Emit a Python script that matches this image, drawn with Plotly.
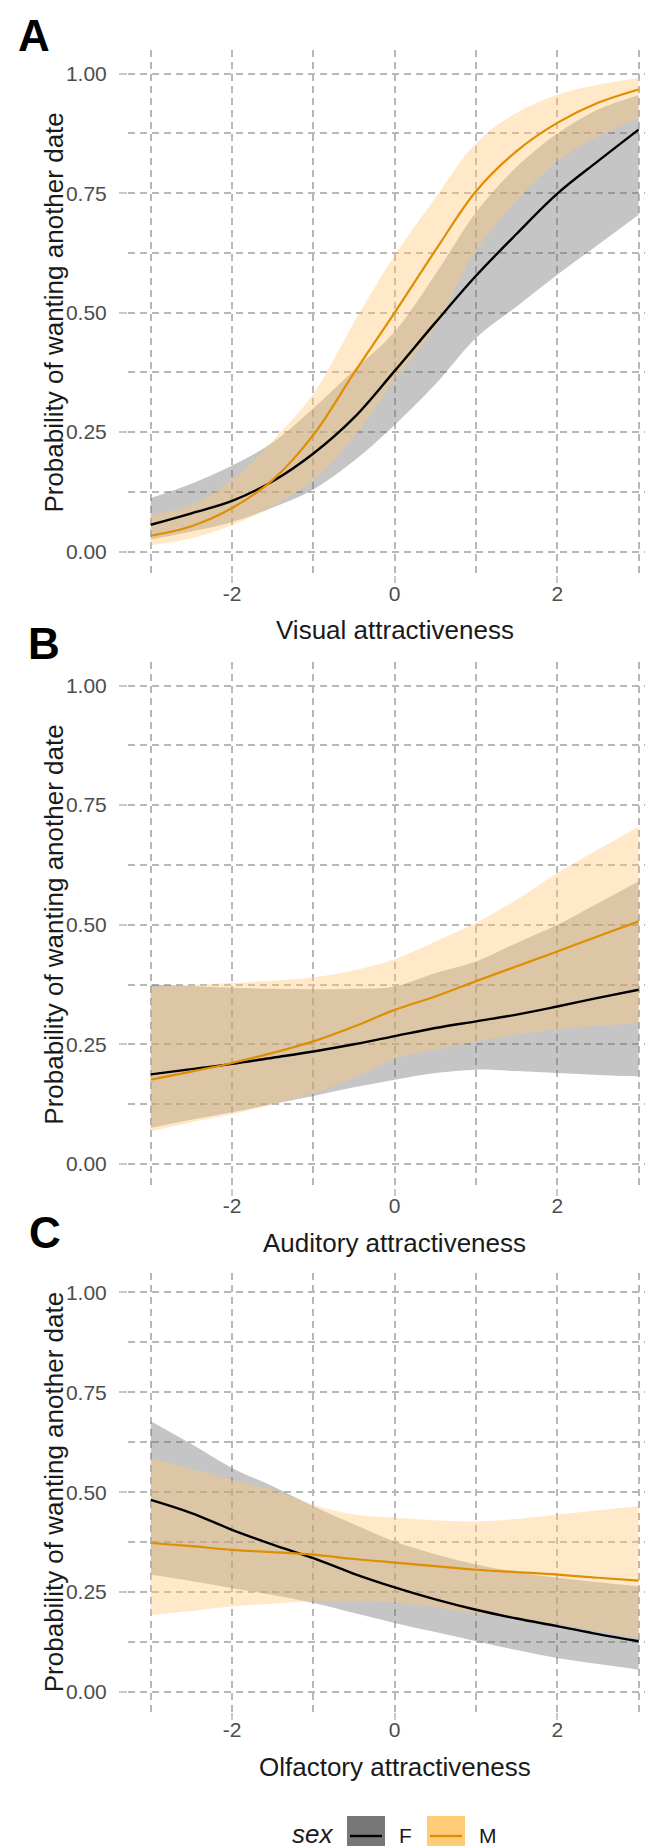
import plotly.graph_objects as go

W, H = 653, 1846

x_vals = [-3, -2.5, -2, -1.5, -1, -0.5, 0, 0.5, 1, 1.5, 2, 2.5, 3]

# Panel A - Visual
visual_F = [0.056, 0.080, 0.106, 0.147, 0.205, 0.280, 0.378, 0.479, 0.577, 0.665, 0.749, 0.817, 0.883]
visual_F_lo = [0.025, 0.042, 0.062, 0.092, 0.130, 0.190, 0.265, 0.350, 0.447, 0.513, 0.579, 0.642, 0.705]
visual_F_hi = [0.112, 0.142, 0.180, 0.228, 0.300, 0.380, 0.460, 0.580, 0.710, 0.805, 0.875, 0.925, 0.955]
visual_M = [0.033, 0.053, 0.091, 0.150, 0.244, 0.374, 0.500, 0.630, 0.754, 0.838, 0.897, 0.939, 0.967]
visual_M_lo = [0.013, 0.028, 0.055, 0.095, 0.150, 0.240, 0.360, 0.470, 0.630, 0.735, 0.817, 0.869, 0.907]
visual_M_hi = [0.075, 0.098, 0.150, 0.232, 0.330, 0.480, 0.620, 0.740, 0.855, 0.918, 0.956, 0.977, 0.991]

# Panel B - Auditory
auditory_F = [0.187, 0.198, 0.209, 0.222, 0.235, 0.250, 0.267, 0.284, 0.298, 0.312, 0.329, 0.347, 0.364]
auditory_F_lo = [0.075, 0.092, 0.108, 0.125, 0.142, 0.160, 0.176, 0.190, 0.197, 0.194, 0.190, 0.186, 0.183]
auditory_F_hi = [0.375, 0.372, 0.368, 0.366, 0.365, 0.366, 0.371, 0.399, 0.423, 0.462, 0.500, 0.545, 0.591]
auditory_M = [0.176, 0.193, 0.211, 0.232, 0.256, 0.287, 0.322, 0.350, 0.382, 0.413, 0.444, 0.476, 0.507]
auditory_M_lo = [0.068, 0.087, 0.104, 0.124, 0.147, 0.180, 0.220, 0.239, 0.256, 0.270, 0.281, 0.288, 0.295]
auditory_M_hi = [0.370, 0.374, 0.378, 0.383, 0.390, 0.405, 0.428, 0.465, 0.504, 0.552, 0.608, 0.657, 0.705]

# Panel C - Olfactory
olfactory_F = [0.481, 0.448, 0.406, 0.369, 0.335, 0.296, 0.262, 0.232, 0.206, 0.184, 0.165, 0.145, 0.127]
olfactory_F_lo = [0.294, 0.278, 0.260, 0.243, 0.223, 0.198, 0.173, 0.150, 0.127, 0.105, 0.085, 0.070, 0.056]
olfactory_F_hi = [0.678, 0.621, 0.561, 0.515, 0.465, 0.420, 0.377, 0.345, 0.319, 0.300, 0.286, 0.275, 0.265]
olfactory_M = [0.373, 0.365, 0.356, 0.350, 0.344, 0.333, 0.324, 0.315, 0.306, 0.300, 0.294, 0.286, 0.279]
olfactory_M_lo = [0.193, 0.203, 0.214, 0.221, 0.227, 0.227, 0.224, 0.212, 0.197, 0.184, 0.170, 0.152, 0.135]
olfactory_M_hi = [0.586, 0.558, 0.531, 0.506, 0.469, 0.444, 0.436, 0.430, 0.427, 0.433, 0.444, 0.455, 0.465]

panel_letters = ["A", "B", "C"]
x_titles = ["Visual attractiveness", "Auditory attractiveness", "Olfactory attractiveness"]
y_title = "Probability of wanting another date"
y_tickvals = [0, 0.25, 0.5, 0.75, 1.0]
y_ticktext = ["0.00", "0.25", "0.50", "0.75", "1.00"]
x_tickvals = [-2, 0, 2]
x_ticktext = ["-2", "0", "2"]
legend_title = "sex"
legend_labels = ["F", "M"]

panels = [
    (visual_F, visual_F_lo, visual_F_hi, visual_M, visual_M_lo, visual_M_hi),
    (auditory_F, auditory_F_lo, auditory_F_hi, auditory_M, auditory_M_lo, auditory_M_hi),
    (olfactory_F, olfactory_F_lo, olfactory_F_hi, olfactory_M, olfactory_M_lo, olfactory_M_hi),
]

# pixel geometry of panels (top, bottom)
panel_px = [(41.8, 567.4), (653.6, 1179.8), (1264.5, 1704.0)]
plot_left = 120.0

F_FILL = "rgba(110,110,110,0.4)"
M_FILL = "rgba(255,200,120,0.4)"
F_LINE = "#000000"
M_LINE = "#E08E00"
GRID = "#B8B8B8"
GW = 1.5
DASH = "7px,5px"
TICKFONT = dict(family="Liberation Sans, Arial, sans-serif", size=21, color="#4D4D4D")
TITLEFONT = dict(family="Liberation Sans, Arial, sans-serif", size=26, color="#1A1A1A")


def px(x):
    return x / W


def py(y):
    return 1 - y / H


fig = go.Figure()
annotations = []
shapes = []

for i, (f, flo, fhi, m, mlo, mhi) in enumerate(panels):
    n = "" if i == 0 else str(i + 1)
    xa, ya = "x" + n, "y" + n
    common = dict(xaxis=xa, yaxis=ya, showlegend=False, hoverinfo="skip")
    # F ribbon
    fig.add_trace(go.Scatter(x=x_vals, y=flo, mode="lines", line=dict(width=0, shape="spline"), **common))
    fig.add_trace(go.Scatter(x=x_vals, y=fhi, mode="lines", line=dict(width=0, shape="spline"),
                             fill="tonexty", fillcolor=F_FILL, **common))
    # M ribbon
    fig.add_trace(go.Scatter(x=x_vals, y=mlo, mode="lines", line=dict(width=0, shape="spline"), **common))
    fig.add_trace(go.Scatter(x=x_vals, y=mhi, mode="lines", line=dict(width=0, shape="spline"),
                             fill="tonexty", fillcolor=M_FILL, **common))
    # lines
    fig.add_trace(go.Scatter(x=x_vals, y=f, mode="lines", line=dict(color=F_LINE, width=2.4, shape="spline"), **common))
    fig.add_trace(go.Scatter(x=x_vals, y=m, mode="lines", line=dict(color=M_LINE, width=2.2, shape="spline"), **common))

    top, bot = panel_px[i]
    xaxis = dict(
        domain=[px(plot_left), 1.0], range=[-3.28, 3.275], anchor=ya,
        tickvals=x_tickvals, ticktext=x_ticktext, tickfont=TICKFONT,
        showgrid=True, gridcolor=GRID, griddash=DASH, gridwidth=GW,
        ticks="outside", ticklen=7, tickcolor="#C8C8C8", tickwidth=GW,
        ticklabelstandoff=-8,
        minor=dict(tickvals=[-3, -1, 1, 3], showgrid=True, gridcolor=GRID, griddash=DASH, gridwidth=GW),
        showline=False, zeroline=False, fixedrange=True,
    )
    yaxis = dict(
        domain=[py(bot), py(top)], range=[-0.05, 1.05], anchor=xa,
        tickvals=y_tickvals, ticktext=y_ticktext, tickfont=TICKFONT,
        showgrid=True, gridcolor=GRID, griddash=DASH, gridwidth=GW,
        ticks="outside", ticklen=8, tickcolor="#C8C8C8", tickwidth=GW,
        ticklabelstandoff=8,
        minor=dict(tickvals=[0.125, 0.375, 0.625, 0.875], showgrid=True, gridcolor=GRID,
                   griddash=DASH, gridwidth=GW),
        showline=False, zeroline=False, fixedrange=True,
    )
    fig.update_layout(**{"xaxis" + n: xaxis, "yaxis" + n: yaxis})

    # y-axis title centred on the 0..1 range
    y0px = bot - (bot - top) * (0.05 / 1.1)
    y1px = top + (bot - top) * (0.05 / 1.1)
    annotations.append(dict(text=y_title, x=px(46), y=py((y0px + y1px) / 2), xref="paper", yref="paper",
                            textangle=-90, showarrow=False, font=TITLEFONT, xanchor="center", yanchor="middle"))
    # x-axis title
    annotations.append(dict(text=x_titles[i], x=px(386.7), y=py(bot + 55), xref="paper", yref="paper",
                            showarrow=False, font=TITLEFONT, xanchor="center", yanchor="middle"))

letter_pos = [(26, 28), (36, 635), (37, 1224)]
for L, (lx, ly) in zip(panel_letters, letter_pos):
    annotations.append(dict(text="<b>%s</b>" % L, x=px(lx), y=py(ly), xref="paper", yref="paper",
                            showarrow=False, xanchor="center", yanchor="middle",
                            font=dict(family="Liberation Sans, Arial, sans-serif", size=44, color="#000000")))

# legend (drawn manually, ggplot style)
annotations.append(dict(text="<i>%s</i>" % legend_title, x=px(304), y=py(1826), xref="paper", yref="paper",
                        showarrow=False, xanchor="center", yanchor="middle", font=TITLEFONT))
key_specs = [(339, 377, "#777777", F_LINE, 397, legend_labels[0]),
             (419, 457, "#FFCC77", M_LINE, 480, legend_labels[1])]
for x0, x1, fillc, linec, tx, lab in key_specs:
    shapes.append(dict(type="rect", xref="paper", yref="paper", x0=px(x0), x1=px(x1), y0=py(1850), y1=py(1808),
                       fillcolor=fillc, line=dict(width=0), layer="above"))
    shapes.append(dict(type="line", xref="paper", yref="paper", x0=px(x0 + 3), x1=px(x1 - 3), y0=py(1828), y1=py(1828),
                       line=dict(color=linec, width=2.4), layer="above"))
    annotations.append(dict(text=lab, x=px(tx), y=py(1827), xref="paper", yref="paper", showarrow=False,
                            xanchor="center", yanchor="middle",
                            font=dict(family="Liberation Sans, Arial, sans-serif", size=21, color="#1A1A1A")))

fig.update_layout(
    width=W, height=H, margin=dict(l=0, r=0, t=0, b=0),
    paper_bgcolor="white", plot_bgcolor="white",
    annotations=annotations, shapes=shapes, showlegend=False,
)

fig.write_html("out.html")
